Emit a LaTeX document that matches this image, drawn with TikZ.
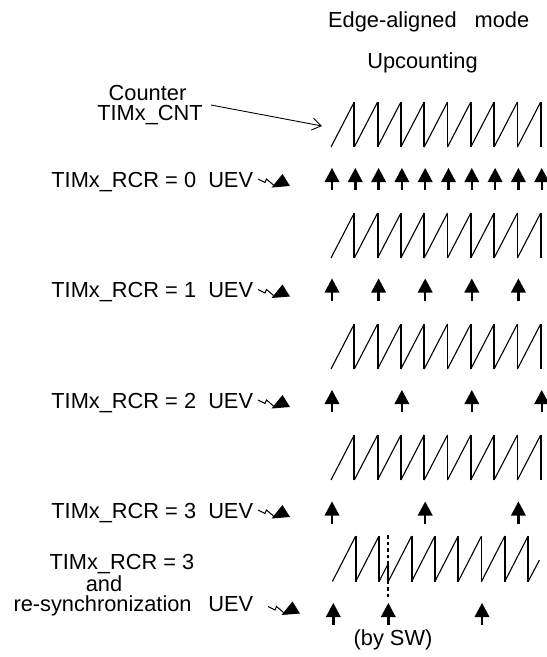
\documentclass[tikz,border=0pt]{standalone}
\usepackage{fontspec}
\setmainfont{Liberation Sans}
\usetikzlibrary{arrows.meta}
\tikzset{
  txt/.style={inner sep=0pt, font=\fontsize{21.8}{25}\selectfont},
  ramp/.style={line width=1.1pt},
  drop/.style={line width=1.8pt},
  uparrow/.pic={\fill (-7.5,14) -- (0,0) -- (7.5,14) -- cycle; \draw[line width=2.4pt] (0,13) -- (0,22);},
  lightning/.pic={\draw[line width=1pt, line join=miter] (0,-8) -- (7,-4.5) -- (8.5,-8) -- (15.5,-2); \fill (13.5,0.5) -- (24.5,-13) -- (32,-1) -- cycle;}
}
\newcommand\drawsaw[1]{%
  \foreach \k in {0,...,8}{%
    \draw[ramp] (331+\k*23.3,#1) -- (354.3+\k*23.3,#1-45);
    \draw[drop] (354.3+\k*23.3,#1-45) -- (354.3+\k*23.3,#1);
  }%
}
\begin{document}
\begin{tikzpicture}[x=1pt,y=-1pt]
\useasboundingbox (0,0) rectangle (547,657);
% titles
\node[txt, anchor=base west] (title) at (328,27.3) {Edge-aligned\hspace{18pt}mode};
\node[txt, anchor=base] (upc) at (422.5,68.3) {Upcounting};
\node[txt, anchor=base] (cntA) at (147.5,100) {Counter};
\node[txt, anchor=base] (cntB) at (150,120.7) {TIMx\_CNT};
\coordinate (cntfrom) at (211,105);
\coordinate (cntto) at (322,126);
\draw[line width=0.9pt, -{Straight Barb[length=9pt,width=12pt]}] (cntfrom) -- (cntto);
% sawtooth rows
\drawsaw{147}
\drawsaw{258}
\drawsaw{369}
\drawsaw{480}
% row labels
\node[txt, anchor=base east] (r0) at (253.3,187) {TIMx\_RCR = 0\ \ UEV};
\node[txt, anchor=base east] (r1) at (253.3,297.5) {TIMx\_RCR = 1\ \ UEV};
\node[txt, anchor=base east] (r2) at (253.3,408) {TIMx\_RCR = 2\ \ UEV};
\node[txt, anchor=base east] (r3) at (253.3,518) {TIMx\_RCR = 3\ \ UEV};
\pic at (258,187) {lightning};
\pic at (258,297.5) {lightning};
\pic at (258,408) {lightning};
\pic at (258,518) {lightning};
% UEV arrows
\foreach \k in {0,...,9}{\pic at (332+\k*23.3,168) {uparrow};}
\foreach \k in {0,2,4,6,8}{\pic at (332+\k*23.3,278.5) {uparrow};}
\foreach \k in {0,3,6,9}{\pic at (332+\k*23.3,390) {uparrow};}
\foreach \k in {0,4,8}{\pic at (332+\k*23.3,501.5) {uparrow};}
% re-synchronization row
\node[txt, anchor=base west] (r4a) at (49.3,569.3) {TIMx\_RCR = 3};
\node[txt, anchor=base] (r4b) at (104,591.2) {and};
\node[txt, anchor=base west] (r4c) at (13.3,611.7) {re-synchronization};
\node[txt, anchor=base east] (r4d) at (253.3,611.7) {UEV};
\pic at (268,614.5) {lightning};
\draw[ramp] (332.4,581.5) -- (355.7,536);
\draw[drop] (355.7,536) -- (355.7,581.5);
\draw[ramp] (355.7,581.5) -- (379,536);
\draw[drop] (379,536) -- (379,581.5);
\draw[ramp] (379,581.5) -- (388.3,563.5);
\draw[drop] (388.3,563.5) -- (388.3,581.5);
\foreach \k in {0,...,5}{%
  \draw[ramp] (388.3+\k*23.3,581.5) -- (411.6+\k*23.3,536);
  \draw[drop] (411.6+\k*23.3,536) -- (411.6+\k*23.3,581.5);
}
\draw[ramp] (528.1,581.5) -- (539.5,560);
\draw[line width=2pt, dash pattern=on 3.5pt off 3pt] (388.3,535) -- (388.3,598);
\pic at (333.3,603) {uparrow};
\pic at (388.3,603) {uparrow};
\pic at (482,603) {uparrow};
\node[txt, anchor=base] (bysw) at (393,645) {(by SW)};
\end{tikzpicture}
\end{document}
